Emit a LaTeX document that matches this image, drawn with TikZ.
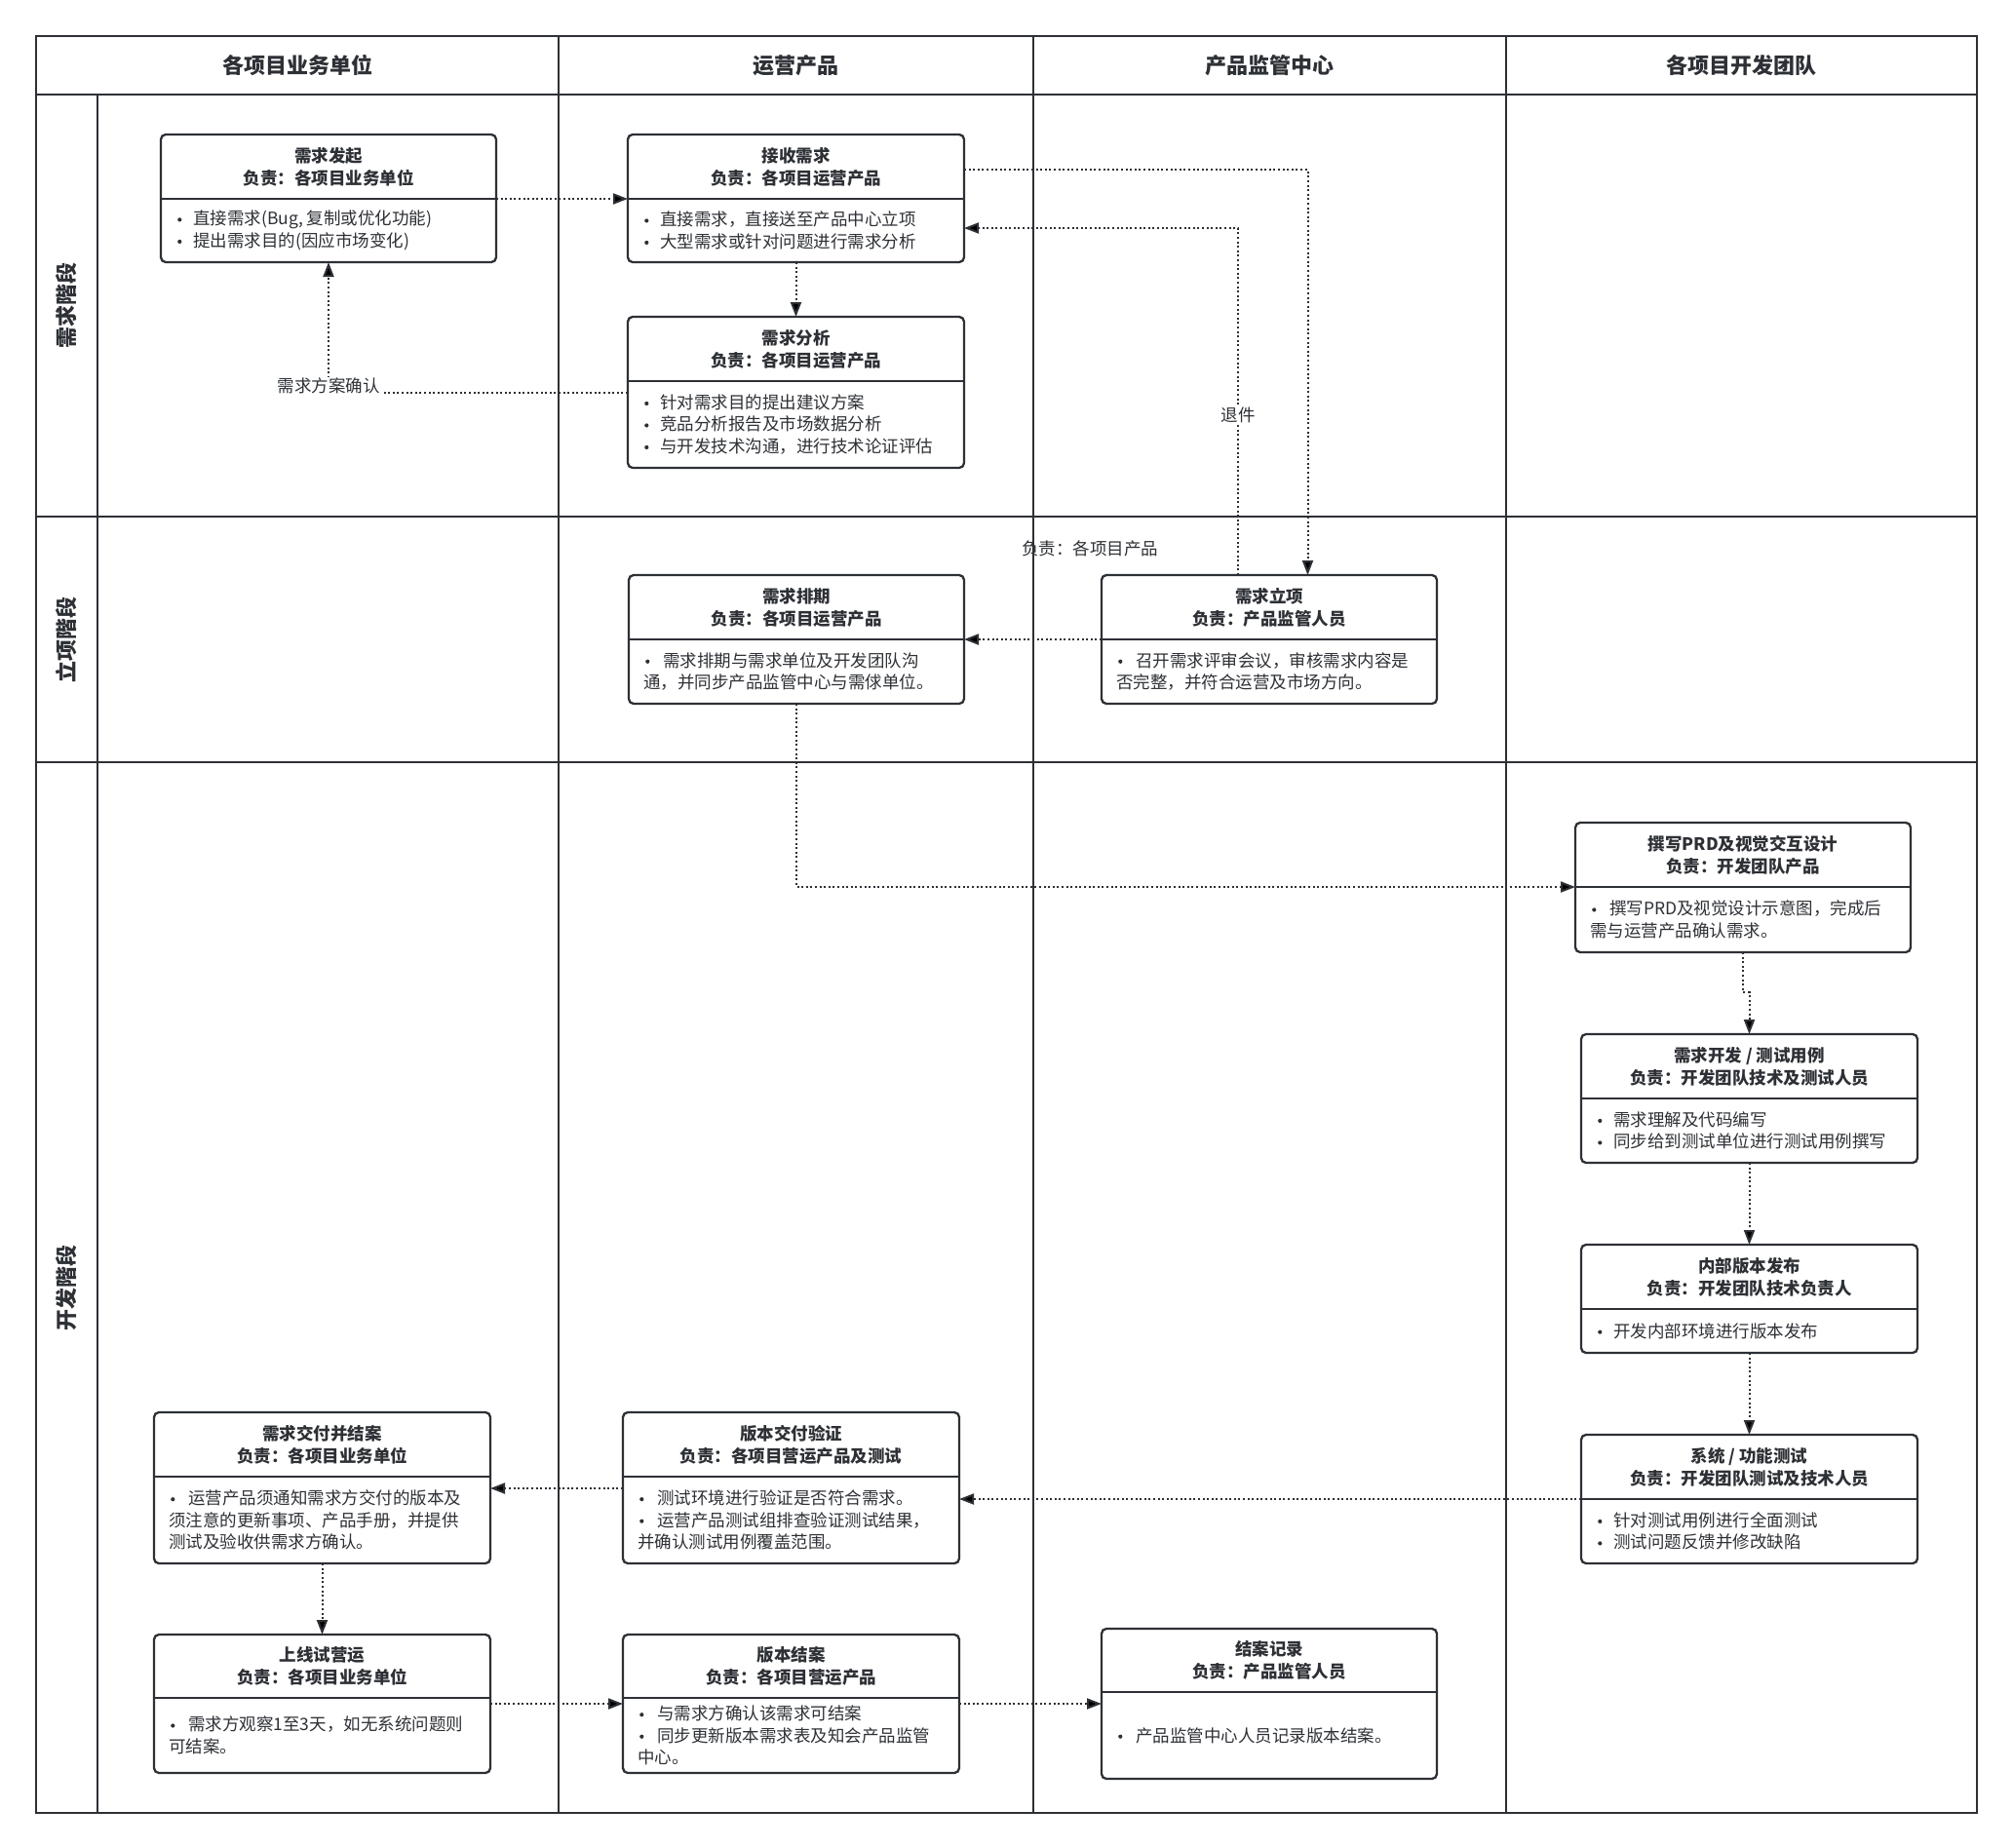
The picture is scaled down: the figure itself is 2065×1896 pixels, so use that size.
\documentclass[tikz,border=0pt]{standalone}
\usepackage{fontspec}
\setmainfont{Noto Sans CJK SC}
\usetikzlibrary{arrows.meta,fit}
\definecolor{ink}{RGB}{45,48,53}
\newcommand{\bulletdot}{\raisebox{5.5pt}{\tikz[baseline]\fill[ink] (0,0) circle (2.1pt);}}
\newcommand{\bl}{\makebox[18pt][l]{\hspace{2pt}\bulletdot}}
\newcommand{\pb}{\makebox[20pt][l]{\hspace{2pt}\bulletdot}}
% #1 name, #2 left, #3 top, #4 right, #5 divider y, #6 bottom, #7 title, #8 body
\newcommand{\procbox}[8]{%
  \node[pbox, fit={(#2,#3) (#4,#6)}] (#1) {};
  \coordinate (#1-dl) at (#2,#5);
  \coordinate (#1-dr) at (#4,#5);
  \draw[pline] (#1-dl) -- (#1-dr);
  \node[ptitle] (#1-t) at ({(#2+#4)/2},{(#3+#5)/2}) {#7};
  \node[pbody] (#1-b) at ({#2+15},{(#5+#6)/2}) {#8};
}
\begin{document}
\begin{tikzpicture}[x=1pt,y=-1pt,
  grid/.style={draw=ink, line width=2.6pt},
  pbox/.style={draw=ink, line width=2.3pt, rounded corners=5pt, fill=white, inner sep=0pt, outer sep=0pt},
  pline/.style={draw=ink, line width=2.3pt},
  ptitle/.style={font=\fontsize{17.5}{23}\selectfont\bfseries, text=ink, align=center, inner sep=0pt},
  pbody/.style={font=\fontsize{17.5}{22.5}\selectfont, text=ink, align=left, anchor=west, inner sep=0pt},
  hdr/.style={font=\fontsize{22}{26}\selectfont\bfseries, text=ink, inner sep=0pt},
  lane/.style={font=\fontsize{22}{26}\selectfont\bfseries, text=ink, inner sep=0pt, rotate=90},
  lbl/.style={font=\fontsize{17.5}{22}\selectfont, text=ink, fill=white, inner sep=1pt},
  freelbl/.style={font=\fontsize{17.5}{22}\selectfont, text=ink, inner sep=0pt},
  conn/.style={draw=ink, line width=2pt, dash pattern=on 2pt off 2.6pt, -{Triangle[length=15pt,width=11pt]}}
]
\useasboundingbox[fill=white] (0,0) rectangle (2065,1896);

% ---------- swimlane grid ----------
\draw[grid] (37,37) rectangle (2028,1860);
\draw[grid] (37,97) -- (2028,97);
\draw[grid] (37,530) -- (2028,530);
\draw[grid] (37,782) -- (2028,782);
\draw[grid] (100,97) -- (100,1860);
\draw[grid] (573,37) -- (573,1860);
\draw[grid] (1060,37) -- (1060,1860);
\draw[grid] (1545,37) -- (1545,1860);

\node[hdr] (h1) at (305,67) {各项目业务单位};
\node[hdr] (h2) at (816.5,67) {运营产品};
\node[hdr] (h3) at (1302.5,67) {产品监管中心};
\node[hdr] (h4) at (1786.5,67) {各项目开发团队};

\node[lane] (l1) at (68.5,313.5) {需求階段};
\node[lane] (l2) at (68.5,656) {立项階段};
\node[lane] (l3) at (68.5,1321) {开发階段};

% ---------- process boxes ----------
\procbox{b1}{165}{138}{509}{204}{269}{需求发起\\负责：各项目业务单位}
  {\bl 直接需求(Bug, 复制或优化功能)\\ \bl 提出需求目的(因应市场变化)}
\procbox{b2}{644}{138}{989}{204}{269}{接收需求\\负责：各项目运营产品}
  {\bl 直接需求，直接送至产品中心立项\\ \bl 大型需求或针对问题进行需求分析}
\procbox{b3}{644}{325}{989}{391}{480}{需求分析\\负责：各项目运营产品}
  {\bl 针对需求目的提出建议方案\\ \bl 竞品分析报告及市场数据分析\\ \bl 与开发技术沟通，进行技术论证评估}
\procbox{b4}{645}{590}{989}{656}{722}{需求排期\\负责：各项目运营产品}
  {\pb 需求排期与需求单位及开发团队沟\\ 通，并同步产品监管中心与需俅单位。}
\procbox{b5}{1130}{590}{1474}{656}{722}{需求立项\\负责：产品监管人员}
  {\pb 召开需求评审会议，审核需求内容是\\ 否完整，并符合运营及市场方向。}
\procbox{prd}{1616}{844}{1960}{910}{977}{撰写PRD及视觉交互设计\\负责：开发团队产品}
  {\pb 撰写PRD及视觉设计示意图，完成后\\ 需与运营产品确认需求。}
\procbox{dev}{1622}{1061}{1967}{1127}{1193}{需求开发 / 测试用例\\负责：开发团队技术及测试人员}
  {\bl 需求理解及代码编写\\ \bl 同步给到测试单位进行测试用例撰写}
\procbox{rel}{1622}{1277}{1967}{1343}{1388}{内部版本发布\\负责：开发团队技术负责人}
  {\bl 开发内部环境进行版本发布}
\procbox{sys}{1622}{1472}{1967}{1538}{1604}{系统 / 功能测试\\负责：开发团队测试及技术人员}
  {\bl 针对测试用例进行全面测试\\ \bl 测试问题反馈并修改缺陷}
\procbox{del}{158}{1449}{503}{1515}{1604}{需求交付并结案\\负责：各项目业务单位}
  {\pb 运营产品须通知需求方交付的版本及\\ 须注意的更新事项、产品手册，并提供\\ 测试及验收供需求方确认。}
\procbox{ver}{639}{1449}{984}{1515}{1604}{版本交付验证\\负责：各项目营运产品及测试}
  {\pb 测试环境进行验证是否符合需求。\\ \pb 运营产品测试组排查验证测试结果，\\ 并确认测试用例覆盖范围。}
\procbox{live}{158}{1677}{503}{1742}{1819}{上线试营运\\负责：各项目业务单位}
  {\pb 需求方观察1至3天，如无系统问题则\\ 可结案。}
\procbox{close}{639}{1677}{984}{1742}{1819}{版本结案\\负责：各项目营运产品}
  {\pb 与需求方确认该需求可结案\\ \pb 同步更新版本需求表及知会产品监管\\ 中心。}
\procbox{rec}{1130}{1671}{1474}{1736}{1825}{结案记录\\负责：产品监管人员}
  {\pb 产品监管中心人员记录版本结案。}

\node[freelbl] (note) at (1118,563) {负责：各项目产品};

% ---------- connectors ----------
\draw[conn] (b1-dr) -- (b2-dl);
\draw[conn] (b2.south) -- (b3.north);
\draw[conn] (b3.west |- 0,403) -| node[lbl, pos=0.5, yshift=7pt] (confirm) {需求方案确认} (b1.south);
\draw[conn] (b2.east |- 0,174) -| ([xshift=39.5pt]b5.north);
\draw[conn] ([xshift=-32pt]b5.north) |- node[lbl, pos=0.23] (ret) {退件} (b2.east |- 0,234);
\draw[conn] (b5-dl) -- (b4-dr);
\draw[conn] (b4.south) |- (prd-dl);
\draw[conn] (prd.south) -- ++(0,41) -| (dev.north);
\draw[conn] (dev.south) -- (rel.north);
\draw[conn] (rel.south) -- (sys.north);
\draw[conn] (sys-dl) -- (ver.east |- sys-dl);
\draw[conn] (ver.west |- 0,1527) -- (del.east |- 0,1527);
\draw[conn] (del.south) -- (live.north);
\draw[conn] (live.east |- 0,1748) -- (close.west |- 0,1748);
\draw[conn] (close.east |- 0,1748) -- (rec.west |- 0,1748);
\end{tikzpicture}
\end{document}
